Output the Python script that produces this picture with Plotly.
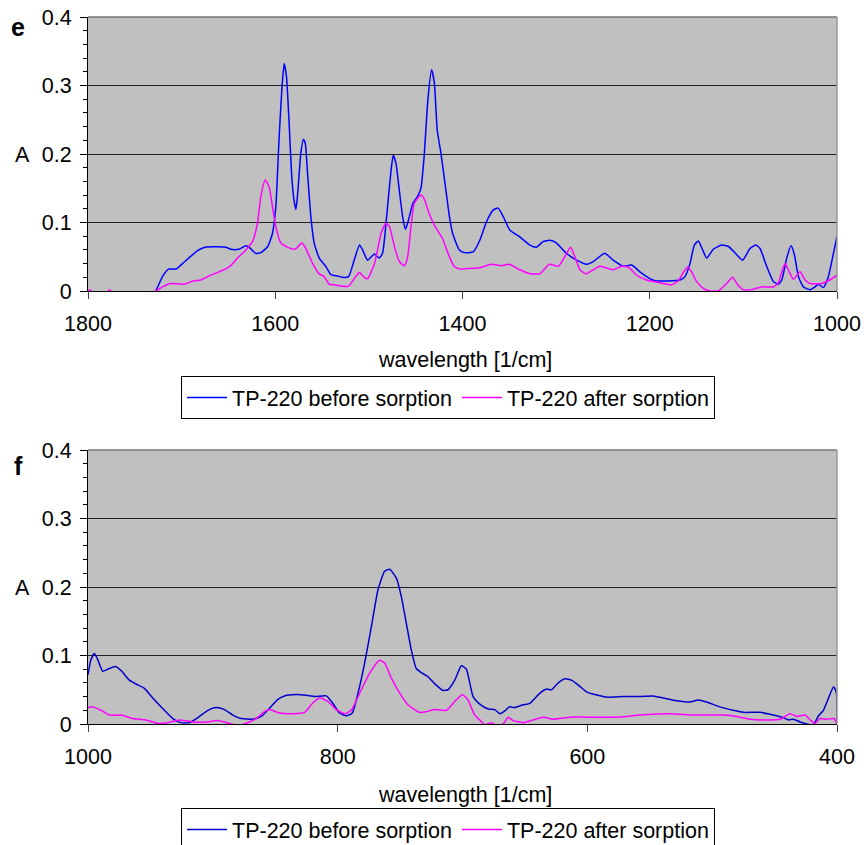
import plotly.graph_objects as go

# ---------- data: panel e (1800-1000 1/cm) ----------
e_before_x = [1800, 1750, 1732, 1727.7, 1720.5, 1714, 1706, 1699, 1683, 1675, 1653, 1647.5, 1639, 1631.5, 1628,
              1621, 1615.4, 1608, 1603, 1599.4, 1596, 1593, 1590.5, 1588, 1585, 1582.6, 1580, 1578, 1576,
              1572.7, 1570, 1568, 1565.5, 1562, 1558.4, 1553, 1546, 1540.6, 1533.5, 1528, 1521.7, 1515.7,
              1510, 1506.7, 1501.4, 1494, 1489, 1485.4, 1481, 1477, 1474, 1471, 1467.5, 1464, 1461, 1458.6,
              1453, 1448, 1444.4, 1441, 1437, 1433, 1430, 1427, 1423, 1417.7, 1414, 1410.5, 1403.4, 1398,
              1388.6, 1381.5, 1374.4, 1367.3, 1362, 1356.6, 1349.5, 1338.8, 1328, 1321, 1314, 1306.7,
              1299.6, 1289, 1278, 1267.5, 1260.4, 1248, 1239, 1228.3, 1219.4, 1210.5, 1199.8, 1194.5,
              1174.9, 1167.7, 1162.4, 1157, 1152.4, 1148.1, 1143.5, 1139.2, 1132.1, 1123.2, 1116, 1107.1,
              1100.7, 1093, 1086.5, 1082.2, 1075.1, 1068, 1062.6, 1059, 1053.7, 1049.1, 1045.5, 1041.2,
              1035.9, 1028.8, 1023.4, 1019.9, 1014.5, 1009.2, 1003.8, 1000]
e_before_y = [-0.02, -0.02, -0.005, 0.0, 0.021, 0.032, 0.032, 0.040, 0.059, 0.064, 0.064, 0.061, 0.061, 0.066, 0.064,
              0.055, 0.056, 0.065, 0.084, 0.123, 0.220, 0.293, 0.332, 0.313, 0.240, 0.172, 0.133, 0.119, 0.143,
              0.201, 0.221, 0.216, 0.172, 0.109, 0.070, 0.048, 0.036, 0.024, 0.022, 0.020, 0.021, 0.045,
              0.067, 0.060, 0.045, 0.054, 0.048, 0.055, 0.109, 0.167, 0.198, 0.186, 0.147, 0.109, 0.090, 0.099,
              0.128, 0.138, 0.150, 0.196, 0.279, 0.323, 0.303, 0.235, 0.201, 0.147, 0.109, 0.084, 0.060, 0.056,
              0.057, 0.074, 0.101, 0.118, 0.121, 0.109, 0.089, 0.079, 0.067, 0.064, 0.072, 0.074,
              0.070, 0.055, 0.045, 0.039, 0.043, 0.055, 0.045, 0.036, 0.038, 0.028, 0.018, 0.015,
              0.015, 0.016, 0.021, 0.040, 0.067, 0.073, 0.060, 0.048, 0.061, 0.067, 0.065, 0.053,
              0.045, 0.062, 0.067, 0.062, 0.036, 0.014, 0.010, 0.016, 0.048, 0.066, 0.053, 0.021,
              0.006, 0.002, 0.006, 0.010, 0.005, 0.021, 0.055, 0.080]

e_after_x = [1800, 1797, 1795, 1780, 1778, 1776, 1774, 1740, 1727.7, 1720.5, 1711.6, 1697.4, 1686.7, 1679.6,
             1670.7, 1660, 1649.3, 1640.4, 1631.5, 1624.3, 1619, 1615.4, 1610.8, 1606.5, 1603, 1599.4, 1594,
             1587, 1578.7, 1571.6, 1567.3, 1560, 1553, 1547.7, 1542.4, 1537, 1528, 1521.7, 1515.7, 1510,
             1505, 1501.4, 1494, 1487, 1481.7, 1478, 1472.7, 1467.5, 1462, 1458.6, 1455, 1451.5, 1444.4,
             1441, 1435.6, 1430, 1421.5, 1414, 1409, 1402.9, 1392, 1381.5, 1369, 1358.4, 1350, 1338.8, 1330,
             1317.4, 1307.4, 1297.8, 1290.7, 1284.6, 1280, 1274.6, 1268.2, 1260.4, 1253.2, 1239, 1230.1,
             1223, 1214, 1203.4, 1189, 1176.6, 1169.5, 1164.2, 1159.5, 1155.3, 1150, 1142.8, 1135.7, 1126.8,
             1117.8, 1111.4, 1106.5, 1100, 1091.1, 1080.5, 1068, 1062.6, 1059, 1055.5, 1052, 1046.6, 1039.5,
             1034.1, 1028.8, 1016.3, 1009.2, 1000]
e_after_y = [0.001, 0.001, -0.004, -0.004, 0.001, 0.001, -0.004, -0.006, 0.0, 0.006, 0.011, 0.010, 0.015, 0.016,
             0.022, 0.028, 0.035, 0.048, 0.060, 0.072, 0.099, 0.138, 0.162, 0.152, 0.123, 0.094, 0.070,
             0.064, 0.061, 0.070, 0.062, 0.040, 0.025, 0.021, 0.010, 0.009, 0.007, 0.007, 0.018, 0.027,
             0.020, 0.018, 0.040, 0.084, 0.099, 0.094, 0.065, 0.043, 0.037, 0.050, 0.094, 0.128, 0.140,
             0.135, 0.113, 0.096, 0.077, 0.050, 0.036, 0.032, 0.033, 0.034, 0.039, 0.037, 0.039, 0.031, 0.026,
             0.025, 0.039, 0.036, 0.050, 0.064, 0.050, 0.031, 0.025, 0.031, 0.036, 0.031, 0.036,
             0.035, 0.023, 0.016, 0.012, 0.009, 0.015, 0.027, 0.035, 0.028, 0.014, 0.004, 0.000, 0.000,
             0.011, 0.020, 0.010, 0.002, 0.002, 0.006, 0.006, 0.012, 0.028, 0.040, 0.031, 0.017, 0.028,
             0.016, 0.011, 0.011, 0.015, 0.023]

# ---------- data: panel f (1000-400 1/cm) ----------
f_before_x = [1000, 997.6, 994.9, 992.2, 988.2, 984.2, 978, 973.5, 966.9, 960.2, 954.8, 948.1, 938.8, 932.1,
              925.4, 918.7, 910.7, 904, 897.4, 890.7, 884, 877.3, 868, 861.3, 854.6, 847.9, 842.6, 833.2,
              825.2, 818.5, 809.1, 803.8, 798.5, 793.1, 788.3, 783.7, 778.4, 773, 767.7, 762.4, 758.4, 753,
              749, 745, 741, 737, 733, 727.6, 722.3, 715.6, 711.6, 706.2, 700.9, 696.9, 691.5, 686.2, 679.5,
              674.1, 670.1, 666.1, 662.6, 658.1, 651.4, 646.1, 638, 632.7, 628.7, 623.3, 618, 612.7, 606,
              600.6, 591.6, 583.3, 571.2, 557.9, 547.2, 539.1, 528.5, 517.8, 511.1, 504.4, 493.7, 483, 475,
              461.6, 450.9, 442.9, 438.9, 434.9, 429.5, 424.2, 418.9, 414.8, 410.9, 406.8, 402.8, 400.6, 400]
f_before_y = [0.072, 0.094, 0.103, 0.094, 0.077, 0.080, 0.084, 0.078, 0.064, 0.057, 0.052, 0.038, 0.020, 0.008,
              0.002, 0.002, 0.011, 0.020, 0.024, 0.021, 0.013, 0.008, 0.007, 0.011, 0.023, 0.036, 0.041, 0.043,
              0.042, 0.040, 0.041, 0.030, 0.016, 0.012, 0.016, 0.045, 0.089, 0.142, 0.196, 0.223, 0.226, 0.213,
              0.186, 0.147, 0.108, 0.081, 0.075, 0.069, 0.059, 0.049, 0.050, 0.064, 0.085, 0.080, 0.040, 0.029,
              0.022, 0.021, 0.015, 0.019, 0.025, 0.024, 0.028, 0.030, 0.045, 0.051, 0.050, 0.060, 0.066, 0.064,
              0.055, 0.047, 0.042, 0.039, 0.040, 0.040, 0.041, 0.038, 0.034, 0.032, 0.035, 0.032, 0.025, 0.020,
              0.017, 0.017, 0.013, 0.009, 0.006, 0.007, 0.003, 0.000, -0.001, 0.012, 0.020, 0.038, 0.054, 0.047,
              0.0]

f_after_x = [1000, 996.3, 989.6, 982.9, 973.5, 964.2, 953.5, 944.1, 936.1, 926.8, 916.1, 905.4, 896, 885.3,
             878.6, 873.3, 865.3, 858.6, 854.6, 846.6, 835.9, 826.5, 819.8, 814.5, 807.8, 801.1, 794.4,
             789.1, 781.1, 774.4, 766.4, 762.4, 757, 750.3, 743.7, 734.3, 729, 722.3, 712.9, 706.2, 700.1,
             695.6, 690.2, 686.2, 682.2, 676.8, 672.8, 667.4, 663.4, 659.4, 651.4, 643.4, 635.4, 627.4, 614,
             600.6, 579.2, 568.5, 557.9, 533.8, 515.1, 491, 480.3, 469.6, 456.3, 445.6, 437.5, 432.2, 425.5,
             421.5, 417.5, 413.5, 408.2, 402.3, 400.2]
f_after_y = [0.024, 0.025, 0.020, 0.013, 0.013, 0.008, 0.006, 0.001, 0.002, 0.006, 0.003, 0.003, 0.005, 0.000,
             -0.002, 0.001, 0.008, 0.018, 0.021, 0.016, 0.015, 0.017, 0.031, 0.038, 0.033, 0.021, 0.015,
             0.020, 0.050, 0.074, 0.093, 0.089, 0.067, 0.045, 0.028, 0.017, 0.018, 0.021, 0.020, 0.033, 0.043,
             0.035, 0.013, 0.006, -0.001, 0.002, -0.002, 0.000, 0.010, 0.005, 0.002, 0.006, 0.010, 0.007, 0.010,
             0.010, 0.010, 0.011, 0.013, 0.015, 0.013, 0.013, 0.011, 0.007, 0.006, 0.007, 0.015, 0.011, 0.013,
             0.006, 0.001, 0.008, 0.007, 0.008, 0.0]

series_names = ["TP-220 before sorption", "TP-220 after sorption"]
y_tickvals = [0, 0.1, 0.2, 0.3, 0.4]
y_ticktext = ["0", "0.1", "0.2", "0.3", "0.4"]
e_xticks = [1800, 1600, 1400, 1200, 1000]
f_xticks = [1000, 800, 600, 400]

# ---------- figure ----------
W, H = 864, 845
FONT = "Liberation Sans, Arial, sans-serif"
FS = 21.5
BLUE = "#0000FF"
MAGENTA = "#FF00FF"

def px(x):
    return x / W

def py(y):
    return 1 - y / H

fig = go.Figure()
fig.add_trace(go.Scatter(x=e_before_x, y=e_before_y, mode="lines", name=series_names[0],
                         line=dict(color=BLUE, width=1.5, shape="spline", smoothing=0.5),
                         xaxis="x", yaxis="y", legend="legend"))
fig.add_trace(go.Scatter(x=e_after_x, y=e_after_y, mode="lines", name=series_names[1],
                         line=dict(color=MAGENTA, width=1.5, shape="spline", smoothing=0.5),
                         xaxis="x", yaxis="y", legend="legend"))
fig.add_trace(go.Scatter(x=f_before_x, y=f_before_y, mode="lines", name=series_names[0],
                         line=dict(color="#0000CC", width=1.5, shape="spline", smoothing=0.5),
                         xaxis="x2", yaxis="y2", legend="legend2"))
fig.add_trace(go.Scatter(x=f_after_x, y=f_after_y, mode="lines", name=series_names[1],
                         line=dict(color=MAGENTA, width=1.5, shape="spline", smoothing=0.5),
                         xaxis="x2", yaxis="y2", legend="legend2"))

xdom = [px(88), px(837)]
common_y = dict(range=[0, 0.4], tickvals=y_tickvals, ticktext=y_ticktext, showgrid=True,
                gridcolor="#222222", gridwidth=1.2, showline=True, linecolor="black", linewidth=1.2,
                ticks="outside", ticklen=7, tickcolor="black", tickwidth=1.2,
                minor=dict(ticks="outside", dtick=0.02, ticklen=4, tickcolor="black", tickwidth=1, showgrid=False),
                tickfont=dict(family=FONT, size=FS, color="black"), zeroline=False,
                ticklabelstandoff=4, fixedrange=True, automargin=False)
common_x = dict(showgrid=False, showline=True, linecolor="black", linewidth=1.2, ticks="outside",
                ticklen=7, tickcolor="#444444", tickwidth=1.2, zeroline=False,
                tickfont=dict(family=FONT, size=FS, color="black"), ticklabelstandoff=6, fixedrange=True,
                automargin=False)

legend_common = dict(orientation="h", bgcolor="white", bordercolor="black", borderwidth=1,
                     font=dict(family=FONT, size=FS, color="black"), xanchor="left", yanchor="top",
                     itemwidth=40, tracegroupgap=0)

fig.update_layout(
    width=W, height=H, margin=dict(l=0, r=0, t=0, b=0, autoexpand=False),
    paper_bgcolor="white", plot_bgcolor="#C0C0C0",
    xaxis=dict(domain=xdom, range=[1800, 1000], tickvals=e_xticks, anchor="y", **common_x),
    yaxis=dict(domain=[py(291), py(17)], anchor="x", **common_y),
    xaxis2=dict(domain=xdom, range=[1000, 400], tickvals=f_xticks, anchor="y2", **common_x),
    yaxis2=dict(domain=[py(724), py(450)], anchor="x2", **common_y),
    legend=dict(x=px(181), y=py(376), **legend_common),
    legend2=dict(x=px(181), y=py(808), **legend_common),
    showlegend=True,
)

# plot-area frames (grey top/right edges) for both panels
for xa, ya in (("x", "y"), ("x2", "y2")):
    fig.add_shape(type="line", xref=f"{xa} domain", yref=f"{ya} domain", x0=0, x1=1, y0=1, y1=1,
                  line=dict(color="#777777", width=1.5), layer="above")
    fig.add_shape(type="line", xref=f"{xa} domain", yref=f"{ya} domain", x0=1, x1=1, y0=0, y1=1,
                  line=dict(color="#999999", width=1.5), layer="above")

ann = [
    dict(text="<b>e</b>", x=px(18), y=py(27), size=25),
    dict(text="<b>f</b>", x=px(18), y=py(466), size=25),
    dict(text="A", x=px(22), y=py(155), size=FS),
    dict(text="A", x=px(22), y=py(588), size=FS),
    dict(text="wavelength [1/cm]", x=px(465), y=py(360), size=FS),
    dict(text="wavelength [1/cm]", x=px(465), y=py(795), size=FS),
]
for a in ann:
    fig.add_annotation(text=a["text"], x=a["x"], y=a["y"], xref="paper", yref="paper",
                       showarrow=False, xanchor="center", yanchor="middle",
                       font=dict(family=FONT, size=a["size"], color="black"))

fig.write_html("out.html", config={"displayModeBar": False},
               post_script="document.body.style.margin='0';document.body.style.overflow='hidden';")
